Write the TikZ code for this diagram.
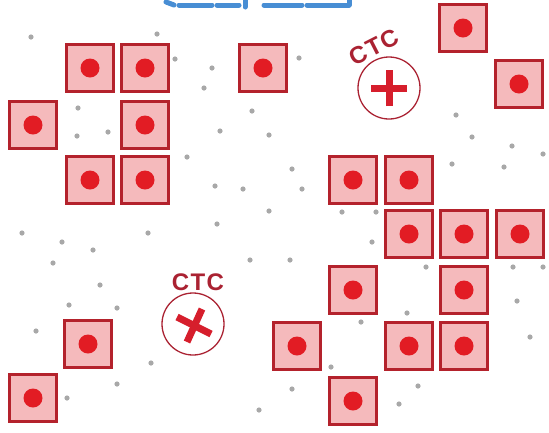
\documentclass[tikz,border=0pt]{standalone}
\usepackage{fontspec}
\setmainfont{Liberation Sans}
\definecolor{sqfill}{RGB}{245,186,188}
\definecolor{sqedge}{RGB}{180,34,44}
\definecolor{dotred}{RGB}{226,28,36}
\definecolor{ctcred}{RGB}{170,34,50}
\definecolor{crossred}{RGB}{214,30,44}
\definecolor{graydot}{RGB}{168,168,168}
\definecolor{titleblue}{RGB}{72,142,212}
\tikzset{
  cell/.style={draw=sqedge,fill=sqfill,line width=3.2pt,minimum size=47pt,inner sep=0pt},
  reddot/.style={fill=dotred},
  speck/.style={fill=graydot},
  ctcring/.style={draw=ctcred,line width=1.3pt,circle,minimum size=62pt,inner sep=0pt},
  ctclabel/.style={text=ctcred,font=\fontsize{24}{24}\selectfont\bfseries\addfontfeature{LetterSpace=6},inner sep=0pt},
  crossbar/.style={draw=crossred,line width=7pt},
  titlestroke/.style={draw=titleblue,line width=5pt,line cap=round}
}
\begin{document}
\begin{tikzpicture}[x=1pt,y=-1pt]
\useasboundingbox (0,0) rectangle (549,432);
% partially visible title
\begin{scope}
\clip (0,0) rectangle (549,9);
\draw[titlestroke] (166,2) -- (174,5);
\draw[titlestroke] (179,5) -- (212,5);
\draw[titlestroke] (217,5) -- (239,5);
\draw[titlestroke] (245,-4) -- (245,7);
\draw[titlestroke] (264,5) -- (302,5);
\draw[titlestroke] (307,5) -- (349,5);
\draw[titlestroke] (349,-4) -- (349,5);
\end{scope}
% gray specks
\foreach \p [count=\k] in {(31,37),(157,34),(175,59),(212,68),(204,88),(78,108),(77,136),(108,132),
  (252,111),(220,131),(269,135),(187,157),(215,186),(243,189),(269,211),
  (299,58),(456,115),(472,137),(512,146),(543,154),(452,164),(504,167),(292,169),(302,189),(342,212),(376,212),
  (22,233),(62,242),(93,250),(148,233),(217,224),(53,263),(250,260),(100,285),(69,305),(117,308),(36,331),
  (151,363),(117,384),(67,398),(259,410),
  (372,242),(290,260),(426,267),(513,267),(543,267),(517,301),(361,322),(407,313),(530,337),(331,367),
  (292,389),(418,386),(399,404)}
  \fill[speck] \p circle (2.6) coordinate (g\k);
% cells
\foreach \p [count=\k] in {(90,68),(145,68),(33,125),(145,125),(90,180),(145,180),(263,68),
  (463,28),(519,84),
  (353,180),(409,180),(409,234),(464,234),(520,234),(353,290),(464,290),
  (297,346),(409,346),(464,346),(353,401),
  (88,344),(33,398)}
  {\node[cell] (s\k) at \p {};
   \fill[reddot] (s\k.center) circle (9.5);}
% CTC top
\node[ctcring] (c1) at (389,88) {};
\draw[crossbar] ([xshift=-18pt]c1.center) -- ([xshift=18pt]c1.center);
\draw[crossbar] ([yshift=-18pt]c1.center) -- ([yshift=18pt]c1.center);
\node[ctclabel,rotate=27] (t1) at (374,47) {CTC};
% CTC bottom
\node[ctcring] (c2) at (193,324) {};
\draw[crossbar] (177,317) -- (211,334);
\draw[crossbar] (202,309) -- (187,342);
\node[ctclabel] (b1) at (198,282) {CTC};
\end{tikzpicture}
\end{document}
